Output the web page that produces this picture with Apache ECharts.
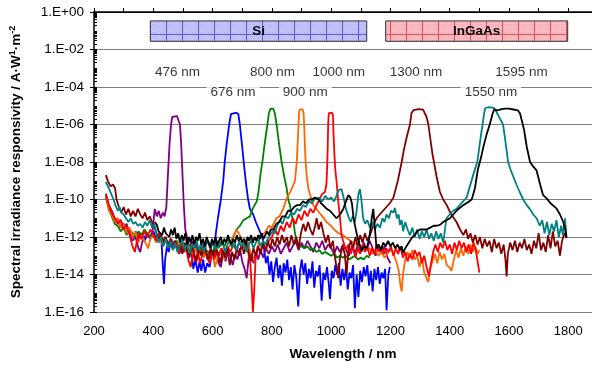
<!DOCTYPE html>
<html><head><meta charset="utf-8">
<script src="https://cdn.jsdelivr.net/npm/echarts@6/dist/echarts.min.js"></script>
<style>html,body{margin:0;padding:0;background:#fff}#c{width:592px;height:366px}</style>
</head><body><div id="c"></div>
<script>
// Values: [wavelength nm, log10(responsivity / A·W^-1·m^-2)]
const resp476 = [[240,-9.8],[250,-10.3],[260,-10.6],[270,-11.0],[280,-11.2],[290,-11.1],[300,-11.5],[310,-11.3],[320,-11.8],[330,-12.2],[340,-12.0],[350,-12.6],[356,-12.8],[362,-12.3],[370,-12.0],[380,-11.8],[390,-12.1],[398,-11.6],[405,-10.5],[412,-10.9],[418,-10.6],[425,-11.0],[432,-10.7],[438,-10.9],[444,-10.4],[450,-8.5],[455,-7.0],[460,-6.0],[464,-5.6],[470,-5.55],[480,-5.55],[486,-5.6],[490,-6.0],[494,-7.0],[498,-8.5],[503,-10.3],[508,-11.6],[515,-12.1],[522,-12.6],[530,-12.2],[538,-12.8],[545,-12.3],[552,-13.0],[560,-12.5],[568,-12.9],[575,-12.4],[582,-13.2],[590,-12.7],[598,-12.9],[605,-13.1],[612,-12.6],[620,-13.4],[628,-13.6],[636,-12.8],[644,-13.3],[652,-12.7],[660,-13.0],[668,-13.5],[676,-12.9],[684,-13.2],[692,-12.6],[700,-13.3],[708,-13.7],[715,-14.2],[722,-13.1],[730,-12.9],[738,-13.4],[746,-12.8],[754,-13.2],[762,-12.7],[771,-13.1],[780,-12.6],[790,-12.9],[800,-12.5],[810,-12.8],[820,-12.4],[830,-12.9],[840,-12.6],[850,-12.3],[860,-12.8],[870,-12.5],[880,-12.2],[890,-12.7],[900,-12.3],[910,-12.6],[920,-12.2],[930,-12.5],[940,-12.8],[950,-12.3],[960,-12.6],[970,-12.2],[980,-12.7],[990,-12.4],[1000,-12.6],[1010,-12.9],[1020,-12.5],[1030,-12.8],[1040,-12.4],[1050,-12.7],[1060,-13.0],[1070,-12.5],[1080,-12.9],[1090,-12.4],[1100,-12.8],[1110,-12.3],[1120,-12.7],[1130,-12.2],[1140,-12.6],[1150,-13.0],[1160,-12.4],[1170,-12.9],[1180,-12.5],[1190,-13.1],[1200,-13.4]];

const resp676 = [[240,-9.7],[250,-10.4],[260,-10.8],[270,-11.2],[280,-11.0],[290,-11.5],[300,-11.3],[310,-11.8],[320,-11.6],[330,-12.0],[340,-11.7],[350,-12.1],[360,-11.8],[370,-12.2],[380,-11.9],[390,-12.0],[400,-11.7],[410,-12.1],[420,-11.8],[428,-12.3],[432,-13.5],[436,-14.5],[440,-13.2],[446,-12.5],[452,-12.8],[458,-12.3],[465,-12.6],[472,-12.2],[480,-12.5],[488,-12.9],[496,-12.4],[504,-12.8],[512,-12.5],[520,-13.0],[528,-12.6],[535,-13.7],[542,-13.2],[550,-13.9],[556,-13.3],[562,-13.8],[568,-13.2],[575,-13.9],[582,-13.4],[590,-13.6],[597,-12.9],[605,-12.8],[611,-11.8],[618,-11.0],[628,-10.0],[636,-9.0],[641,-8.0],[648,-7.0],[656,-6.0],[662,-5.45],[668,-5.37],[680,-5.37],[687,-5.45],[692,-6.0],[700,-7.2],[707,-8.3],[714,-9.3],[720,-10.0],[726,-10.5],[737,-10.8],[746,-11.2],[754,-11.5],[762,-11.8],[768,-12.0],[775,-12.8],[780,-13.4],[786,-13.0],[792,-14.0],[798,-13.3],[804,-14.4],[810,-13.6],[816,-13.1],[822,-14.2],[828,-13.5],[834,-14.6],[840,-13.4],[846,-13.9],[852,-13.2],[858,-14.3],[864,-13.6],[870,-14.8],[876,-13.5],[882,-14.1],[889,-15.7],[895,-13.8],[901,-13.2],[907,-14.0],[913,-13.4],[919,-14.5],[925,-13.7],[931,-14.2],[937,-13.3],[943,-14.7],[949,-13.8],[955,-14.1],[961,-13.5],[968,-15.4],[974,-13.9],[980,-14.3],[986,-13.6],[992,-14.5],[996,-15.3],[1002,-13.8],[1008,-14.2],[1014,-13.5],[1020,-14.0],[1026,-13.4],[1032,-14.6],[1038,-13.7],[1044,-14.3],[1050,-13.6],[1056,-14.8],[1062,-13.9],[1068,-14.2],[1074,-13.5],[1080,-15.8],[1086,-14.0],[1092,-15.2],[1098,-13.8],[1104,-14.4],[1110,-13.6],[1116,-14.1],[1122,-13.5],[1128,-14.6],[1134,-13.8],[1140,-14.9],[1146,-13.7],[1152,-14.3],[1158,-13.6],[1164,-14.5],[1170,-13.9],[1176,-14.2],[1182,-13.7],[1187,-15.9],[1193,-14.0],[1198,-13.6]];

const resp800 = [[240,-9.9],[250,-10.5],[260,-10.9],[270,-11.3],[280,-11.4],[290,-11.7],[300,-11.5],[310,-11.9],[320,-11.6],[330,-11.8],[340,-12.0],[350,-11.7],[360,-11.9],[370,-11.6],[380,-11.8],[390,-12.0],[400,-11.9],[410,-12.2],[420,-11.9],[430,-12.3],[440,-12.0],[450,-12.4],[460,-12.1],[470,-12.5],[480,-12.2],[490,-12.6],[500,-12.3],[510,-12.7],[520,-12.4],[530,-12.8],[540,-12.5],[550,-12.9],[560,-12.6],[570,-13.0],[580,-12.7],[590,-13.1],[600,-12.8],[610,-12.4],[620,-12.6],[630,-12.2],[640,-12.5],[650,-12.1],[660,-12.3],[670,-12.0],[681,-11.6],[692,-11.4],[704,-11.1],[715,-11.0],[726,-10.9],[735,-10.5],[749,-10.1],[755,-9.6],[762,-8.6],[768,-8.0],[776,-7.0],[785,-6.0],[790,-5.4],[795,-5.16],[805,-5.16],[810,-5.4],[816,-6.0],[824,-7.0],[833,-8.0],[842,-8.8],[850,-9.4],[855,-10.0],[861,-10.3],[866,-10.8],[872,-11.1],[878,-11.8],[884,-12.2],[890,-12.4],[900,-12.5],[910,-12.6],[920,-12.5],[930,-12.7],[940,-12.6],[950,-12.8],[960,-12.7],[970,-12.9],[980,-12.8],[990,-12.9],[1000,-13.0],[1010,-12.9],[1020,-13.1],[1030,-13.0],[1040,-13.1],[1050,-13.0],[1060,-13.2],[1070,-13.1],[1080,-13.0],[1090,-13.2],[1100,-13.1],[1110,-13.2],[1120,-13.0],[1130,-13.1]];

const resp900 = [[240,-9.7],[250,-10.6],[260,-10.8],[270,-11.2],[280,-11.0],[290,-11.5],[300,-11.3],[310,-11.8],[320,-11.5],[330,-12.0],[340,-11.7],[350,-12.3],[360,-11.9],[370,-12.2],[383,-12.6],[390,-12.1],[400,-11.9],[410,-12.3],[420,-12.0],[430,-12.4],[440,-12.1],[450,-12.5],[460,-12.2],[470,-12.6],[480,-12.3],[490,-12.7],[500,-12.4],[510,-12.8],[520,-12.5],[530,-12.9],[540,-12.6],[550,-13.0],[560,-12.7],[570,-13.1],[580,-12.8],[590,-13.2],[600,-12.9],[608,-13.6],[620,-12.9],[630,-12.6],[640,-13.2],[650,-12.7],[660,-12.4],[670,-12.0],[680,-11.6],[692,-11.9],[704,-12.4],[716,-12.1],[728,-12.8],[743,-13.3],[752,-12.6],[760,-11.9],[775,-11.8],[790,-11.4],[800,-11.5],[815,-11.0],[826,-10.9],[838,-10.5],[850,-9.95],[865,-9.5],[878,-9.0],[884,-8.0],[887,-7.0],[890,-6.0],[892,-5.3],[895,-5.19],[904,-5.19],[907,-5.4],[909,-6.0],[911,-7.0],[914,-8.0],[918,-8.8],[923,-9.4],[930,-9.8],[940,-10.3],[955,-10.6],[970,-10.9],[985,-11.2],[996,-11.35],[1010,-11.6],[1025,-11.8],[1040,-11.9],[1052,-12.05],[1065,-12.2],[1080,-12.35],[1095,-12.5],[1110,-12.6],[1120,-12.7],[1130,-12.6],[1140,-12.9],[1150,-12.7],[1160,-13.0],[1170,-12.8],[1180,-13.1],[1190,-12.9],[1200,-12.6],[1210,-12.9],[1220,-13.3],[1228,-13.8],[1234,-14.6],[1238,-14.9],[1243,-13.9],[1250,-13.2],[1258,-12.8],[1266,-13.1],[1274,-12.7],[1282,-13.2],[1290,-13.0],[1298,-13.6],[1306,-13.1],[1314,-13.9],[1322,-14.2],[1328,-14.4],[1334,-13.7],[1342,-13.3],[1350,-12.9],[1358,-13.4],[1366,-12.8],[1374,-13.2],[1382,-12.9],[1390,-13.5],[1398,-13.6],[1406,-13.8],[1414,-13.2],[1422,-12.7],[1430,-13.1],[1438,-12.6],[1446,-13.0],[1454,-12.5],[1462,-12.9],[1470,-12.4],[1478,-12.8],[1486,-12.5],[1494,-12.9],[1500,-12.7]];

const resp1000 = [[240,-9.7],[250,-10.3],[260,-10.7],[270,-11.0],[280,-11.3],[290,-11.1],[300,-11.6],[310,-11.4],[320,-11.9],[330,-12.5],[338,-12.8],[345,-12.2],[352,-11.8],[360,-12.1],[370,-11.7],[380,-12.0],[390,-11.6],[400,-11.9],[410,-12.2],[420,-11.8],[430,-12.3],[440,-12.0],[450,-12.5],[460,-12.1],[470,-12.6],[478,-12.3],[486,-12.9],[494,-12.4],[502,-12.8],[510,-12.5],[518,-13.2],[526,-13.6],[534,-12.9],[542,-13.3],[550,-12.8],[558,-13.4],[566,-12.9],[574,-12.6],[582,-13.1],[590,-13.4],[598,-12.8],[606,-13.2],[614,-12.7],[622,-13.0],[630,-12.6],[640,-12.9],[650,-12.5],[660,-12.8],[670,-12.4],[680,-12.7],[690,-12.3],[700,-12.6],[710,-12.4],[720,-12.8],[728,-13.5],[733,-15.0],[736,-16.0],[740,-15.0],[745,-13.2],[752,-12.5],[760,-12.8],[770,-12.4],[780,-12.7],[790,-12.2],[800,-12.0],[810,-11.6],[820,-11.9],[830,-11.4],[840,-11.7],[850,-11.2],[860,-11.5],[870,-11.0],[880,-11.3],[890,-10.8],[900,-11.1],[910,-10.6],[920,-10.9],[930,-10.5],[940,-10.7],[951,-10.3],[960,-10.0],[970,-9.7],[979,-9.6],[984,-9.2],[986,-8.5],[988,-7.5],[990,-6.0],[992,-5.4],[995,-5.37],[1003,-5.37],[1006,-5.5],[1008,-6.5],[1011,-7.6],[1014,-8.4],[1018,-9.0],[1024,-10.1],[1030,-11.0],[1035,-11.9],[1042,-12.3],[1050,-12.7],[1058,-12.4],[1066,-12.9],[1074,-12.5],[1082,-13.1],[1090,-12.6],[1098,-12.9],[1106,-12.4],[1114,-12.8],[1122,-12.5],[1130,-13.0],[1138,-12.6],[1146,-12.9],[1154,-12.4],[1162,-12.8],[1170,-12.5],[1178,-12.9],[1186,-12.6],[1194,-12.8],[1202,-12.5],[1210,-13.0],[1218,-12.6],[1226,-12.9],[1234,-12.5],[1242,-13.1],[1250,-12.8],[1258,-13.3],[1266,-12.9],[1274,-13.2],[1282,-12.7],[1290,-13.0],[1298,-12.8],[1306,-13.4],[1314,-13.0],[1322,-13.6],[1330,-14.1],[1336,-13.5],[1344,-12.8],[1352,-12.4],[1360,-12.8],[1368,-12.3],[1376,-12.6],[1384,-12.2],[1392,-12.7],[1400,-12.4],[1408,-12.9],[1416,-12.3],[1424,-12.7],[1432,-12.2],[1440,-12.6],[1448,-12.3],[1456,-12.8],[1464,-12.4],[1472,-12.9],[1480,-12.3],[1488,-12.7],[1494,-13.3],[1500,-13.9]];

const resp1300 = [[240,-8.7],[248,-9.06],[256,-9.3],[264,-9.2],[271,-9.4],[276,-10.0],[284,-10.4],[292,-10.7],[300,-10.4],[308,-10.8],[316,-10.5],[324,-10.9],[332,-10.6],[340,-10.9],[348,-10.5],[356,-10.8],[364,-11.0],[372,-10.7],[380,-11.1],[388,-10.9],[396,-11.2],[404,-11.5],[411,-11.8],[418,-12.1],[426,-11.9],[434,-12.3],[442,-12.0],[450,-12.4],[458,-12.1],[466,-12.6],[474,-12.2],[482,-12.8],[490,-12.4],[498,-12.9],[506,-12.3],[514,-12.7],[522,-13.1],[530,-12.5],[538,-12.9],[546,-13.3],[554,-12.6],[562,-13.0],[570,-12.4],[578,-12.8],[586,-13.2],[594,-12.6],[602,-13.0],[610,-12.5],[618,-12.9],[626,-13.4],[634,-12.7],[642,-13.1],[650,-12.6],[658,-13.5],[666,-12.8],[674,-13.2],[682,-12.6],[690,-13.0],[698,-12.4],[706,-12.9],[714,-12.3],[722,-12.8],[730,-13.3],[738,-12.6],[746,-13.0],[754,-12.5],[762,-12.9],[770,-12.3],[778,-12.7],[786,-12.2],[794,-12.6],[802,-12.1],[810,-12.5],[818,-12.0],[826,-12.4],[834,-11.9],[842,-12.3],[850,-12.0],[858,-12.5],[866,-11.9],[874,-12.4],[882,-12.0],[890,-12.6],[898,-11.8],[906,-11.3],[914,-11.7],[922,-11.2],[930,-11.6],[938,-11.9],[946,-11.4],[951,-11.0],[958,-11.6],[966,-11.2],[974,-11.8],[982,-12.3],[990,-11.9],[998,-12.6],[1006,-12.2],[1012,-13.0],[1018,-13.6],[1024,-14.2],[1030,-13.1],[1038,-12.5],[1046,-12.9],[1052,-14.0],[1058,-12.7],[1066,-12.2],[1074,-12.6],[1082,-12.0],[1090,-12.5],[1098,-11.9],[1106,-12.3],[1114,-11.8],[1122,-12.2],[1131,-11.9],[1142,-11.4],[1153,-11.0],[1175,-10.6],[1198,-10.2],[1210,-9.9],[1225,-9.0],[1238,-8.0],[1246,-7.3],[1256,-6.6],[1266,-6.0],[1271,-5.4],[1278,-5.23],[1295,-5.18],[1310,-5.21],[1316,-5.3],[1322,-5.6],[1328,-6.0],[1335,-6.8],[1342,-7.6],[1348,-8.1],[1356,-8.8],[1367,-9.6],[1378,-10.0],[1390,-10.3],[1405,-10.8],[1423,-11.2],[1435,-11.6],[1446,-11.9],[1455,-11.6],[1462,-12.1],[1470,-11.8],[1478,-12.3],[1486,-11.9],[1494,-12.4],[1502,-12.0],[1510,-12.6],[1518,-12.1],[1526,-12.5],[1534,-12.2],[1542,-12.8],[1550,-12.1],[1558,-12.6],[1566,-12.3],[1574,-12.9],[1582,-12.4],[1588,-13.2],[1592,-14.1],[1596,-12.9],[1604,-12.3],[1612,-12.7],[1620,-12.2],[1628,-12.8],[1636,-12.3],[1644,-12.6],[1652,-12.1],[1660,-12.7],[1668,-12.4],[1676,-12.9],[1684,-12.2],[1692,-12.6],[1700,-11.8],[1708,-12.7],[1716,-12.3],[1724,-12.8],[1732,-11.9],[1740,-12.6],[1748,-11.7],[1756,-12.5],[1764,-12.2],[1772,-13.0],[1778,-12.3],[1786,-11.8],[1794,-12.05]];

const resp1550 = [[240,-9.06],[250,-9.4],[258,-9.7],[266,-10.0],[272,-10.3],[280,-10.6],[286,-10.4],[292,-10.7],[300,-10.8],[308,-11.0],[316,-11.2],[324,-11.0],[332,-11.3],[340,-11.2],[348,-11.4],[356,-11.3],[364,-11.5],[372,-11.2],[380,-11.4],[388,-11.1],[396,-11.5],[404,-11.3],[411,-11.9],[418,-12.3],[426,-12.0],[434,-12.5],[442,-12.1],[450,-12.6],[458,-12.2],[466,-12.7],[474,-12.3],[482,-12.8],[490,-12.4],[498,-12.2],[506,-12.7],[514,-12.3],[522,-12.9],[530,-12.4],[538,-12.6],[546,-12.2],[554,-12.7],[562,-12.3],[570,-12.8],[578,-12.4],[586,-12.2],[594,-12.6],[602,-12.3],[610,-12.7],[618,-12.2],[626,-12.5],[634,-12.3],[642,-12.8],[650,-12.4],[658,-12.2],[666,-12.6],[674,-12.3],[682,-12.7],[690,-12.2],[698,-12.5],[706,-12.3],[714,-12.8],[722,-12.4],[730,-12.2],[738,-12.6],[746,-12.3],[754,-12.1],[762,-12.5],[770,-12.2],[778,-12.4],[786,-12.1],[794,-11.9],[802,-11.7],[810,-11.8],[818,-11.4],[827,-11.1],[836,-11.3],[845,-10.9],[855,-11.0],[865,-10.7],[875,-10.8],[885,-10.5],[895,-10.6],[905,-10.3],[915,-10.4],[925,-10.1],[935,-10.2],[945,-9.95],[951,-10.0],[960,-9.9],[970,-10.1],[980,-9.8],[990,-10.0],[1000,-9.9],[1010,-10.1],[1018,-9.8],[1025,-9.5],[1030,-9.4],[1035,-9.45],[1042,-9.9],[1050,-10.5],[1058,-10.9],[1066,-11.2],[1073,-10.9],[1080,-11.2],[1086,-10.6],[1092,-9.7],[1097,-9.45],[1102,-10.0],[1108,-11.0],[1115,-11.3],[1122,-11.1],[1131,-11.5],[1140,-11.2],[1148,-11.6],[1156,-11.3],[1165,-11.5],[1173,-11.0],[1180,-11.2],[1187,-10.8],[1195,-11.0],[1202,-10.6],[1210,-10.7],[1215,-10.45],[1222,-11.0],[1228,-10.8],[1232,-11.35],[1238,-11.1],[1243,-11.7],[1250,-11.2],[1258,-11.6],[1266,-11.9],[1274,-11.5],[1282,-12.0],[1290,-11.6],[1298,-12.1],[1306,-11.7],[1314,-12.0],[1322,-11.6],[1330,-12.1],[1338,-11.8],[1346,-12.2],[1354,-11.7],[1362,-12.1],[1370,-11.8],[1378,-12.3],[1384,-11.6],[1389,-11.0],[1400,-10.8],[1412,-10.6],[1423,-10.5],[1434,-10.3],[1445,-10.1],[1457,-9.9],[1468,-9.3],[1479,-8.7],[1487,-8.3],[1493,-8.0],[1500,-7.2],[1506,-6.5],[1511,-6.0],[1516,-5.4],[1520,-5.12],[1530,-5.08],[1545,-5.1],[1552,-5.15],[1560,-5.4],[1570,-5.7],[1580,-6.0],[1588,-6.9],[1597,-8.0],[1605,-8.4],[1615,-8.8],[1625,-9.2],[1636,-9.6],[1648,-10.0],[1660,-10.3],[1670,-10.5],[1682,-10.8],[1693,-11.0],[1704,-11.4],[1712,-11.1],[1720,-11.8],[1728,-11.2],[1736,-11.9],[1744,-11.3],[1752,-11.7],[1760,-11.1],[1768,-12.0],[1776,-11.4],[1782,-11.9],[1789,-11.0],[1794,-12.0]];

const resp1595 = [[405,-11.2],[412,-11.35],[418,-11.7],[424,-11.6],[430,-11.9],[436,-11.5],[442,-11.8],[448,-11.7],[454,-12.0],[460,-11.6],[466,-11.9],[472,-11.5],[478,-12.1],[484,-11.8],[490,-12.3],[496,-11.9],[502,-12.2],[508,-11.8],[514,-12.4],[520,-12.0],[526,-12.3],[532,-11.9],[538,-12.4],[544,-12.0],[550,-12.2],[556,-11.8],[562,-12.4],[568,-12.1],[574,-12.5],[580,-12.0],[586,-12.3],[592,-12.6],[598,-12.1],[604,-12.4],[610,-12.0],[616,-12.5],[622,-12.2],[628,-12.0],[634,-12.4],[640,-12.1],[646,-12.3],[652,-11.9],[658,-12.2],[664,-12.4],[670,-12.1],[676,-12.3],[682,-11.9],[688,-12.2],[694,-12.0],[700,-12.3],[706,-12.1],[712,-12.4],[718,-12.0],[724,-12.2],[730,-11.9],[736,-12.3],[742,-12.0],[748,-12.2],[754,-11.9],[760,-12.1],[766,-11.8],[772,-12.1],[778,-11.9],[784,-11.7],[790,-11.9],[796,-11.6],[805,-11.6],[815,-11.3],[825,-11.2],[835,-10.9],[845,-10.9],[855,-10.6],[865,-10.6],[875,-10.4],[885,-10.3],[895,-10.3],[905,-10.1],[915,-10.2],[925,-10.0],[935,-10.0],[945,-9.9],[951,-9.85],[958,-10.0],[966,-10.2],[973,-10.3],[985,-10.5],[996,-10.6],[1007,-10.8],[1018,-11.0],[1030,-10.8],[1041,-10.5],[1050,-10.1],[1058,-9.77],[1065,-9.9],[1070,-10.2],[1075,-10.9],[1080,-11.35],[1086,-11.8],[1092,-12.2],[1098,-12.5],[1103,-12.76],[1110,-12.5],[1120,-12.6],[1128,-12.1],[1134,-11.4],[1137,-11.0],[1142,-10.5],[1146,-11.2],[1150,-12.0],[1153,-12.6],[1160,-12.4],[1168,-12.7],[1176,-12.3],[1184,-12.5],[1192,-12.2],[1200,-12.5],[1208,-12.3],[1216,-12.6],[1224,-12.4],[1232,-12.7],[1238,-12.5],[1243,-12.85],[1250,-12.6],[1258,-12.4],[1266,-12.2],[1274,-12.0],[1282,-11.9],[1290,-11.7],[1300,-11.6],[1310,-11.6],[1322,-11.6],[1334,-11.5],[1346,-11.4],[1356,-11.4],[1367,-11.35],[1378,-11.2],[1389,-11.1],[1401,-11.0],[1412,-10.8],[1423,-10.6],[1434,-10.45],[1446,-10.3],[1456,-10.2],[1466,-10.1],[1474,-10.0],[1478,-9.8],[1481,-9.9],[1485,-9.4],[1495,-8.4],[1505,-7.8],[1515,-7.1],[1525,-6.5],[1535,-6.0],[1545,-5.4],[1550,-5.2],[1560,-5.25],[1570,-5.2],[1585,-5.15],[1600,-5.15],[1615,-5.2],[1630,-5.25],[1637,-5.4],[1645,-5.9],[1651,-6.3],[1660,-7.2],[1671,-8.0],[1682,-8.25],[1693,-8.45],[1705,-9.2],[1715,-9.77],[1727,-9.94],[1740,-10.2],[1760,-10.47],[1772,-10.8],[1783,-11.2],[1790,-11.6],[1794,-12.05]];

const seriesNames = ['476 nm','676 nm','800 nm','900 nm','1000 nm','1300 nm','1550 nm','1595 nm'];
const seriesData  = [resp476, resp676, resp800, resp900, resp1000, resp1300, resp1550, resp1595];
const seriesColors = ['#800080','#0000ff','#008000','#ff6600','#ff0000','#800000','#008080','#000000'];

// peak labels: [wavelength of label centre, log10 level]
const peakLabelNames = ['476 nm','676 nm','800 nm','900 nm','1000 nm','1300 nm','1550 nm','1595 nm'];
const peakLabelPos = [[482,-3.2],[669,-4.26],[802,-3.2],[913,-4.26],[1026,-3.2],[1286,-3.2],[1539,-4.26],[1642,-3.2]];

// detector ranges: [from nm, to nm, top log10, bottom log10]
const detectorNames = ['Si','InGaAs'];
const detectorBoxes = [[390,1120,-0.475,-1.563],[1184,1798,-0.475,-1.563]];

const yTicks = [-16,-14,-12,-10,-8,-6,-4,-2,0];
const xTicks = [200,400,600,800,1000,1200,1400,1600,1800];

const FONT = '"Liberation Sans", Arial, sans-serif';

function makePattern(bg, dot, line) {
  const c = document.createElement('canvas');
  c.width = 16; c.height = 20;
  const g = c.getContext('2d');
  g.fillStyle = bg; g.fillRect(0,0,16,20);
  g.fillStyle = dot;
  for (let y = 0; y < 20; y += 2) for (let x = (y/2)%2; x < 16; x += 2) g.fillRect(x,y,1,1);
  g.fillStyle = line;
  g.fillRect(6,0,1,20);
  g.fillRect(0,14,16,1);
  return c;
}
const patterns = [
  makePattern('#c4c4ff', '#b0b0f4', '#5a5ae6'),
  makePattern('#ffbcc4', '#f4a8b0', '#e05050')
];

const minorTicks = [];
for (let n = -16; n < 0; n++) {
  for (let k = 1; k <= 9; k++) minorTicks.push(n + Math.log10(k));
}
minorTicks.push(0);
const xMinor = [];
for (let v = 200; v <= 1800; v += 100) xMinor.push(v);

const chart = echarts.init(document.getElementById('c'), null, {renderer: 'canvas'});

const lineSeries = seriesData.map((d, i) => ({
  type: 'line', name: seriesNames[i], data: d, showSymbol: false, symbol: 'none',
  lineStyle: {color: seriesColors[i], width: 1.8}, itemStyle: {color: seriesColors[i]},
  clip: true, z: 3 + i * 0.01, silent: true
}));

const option = {
  animation: false,
  backgroundColor: '#fff',
  textStyle: {fontFamily: FONT},
  grid: {left: 94, right: 0, top: 12, bottom: 51},
  xAxis: [{
    type: 'value', min: 200, max: 1880,
    axisLine: {lineStyle: {color: '#000', width: 1.5}},
    axisTick: {inside: true, length: 4, customValues: xMinor, lineStyle: {color: '#000'}},
    axisLabel: {customValues: xTicks, color: '#000', fontSize: 13, margin: 13, fontFamily: FONT,
      formatter: v => String(Math.round(v))},
    splitLine: {show: false},
    name: 'Wavelength / nm', nameLocation: 'middle', nameGap: 35,
    nameTextStyle: {fontWeight: 'bold', fontSize: 13.5, color: '#000', fontFamily: FONT}
  }, {
    type: 'value', min: 200, max: 1880, position: 'top',
    axisLine: {show: true, lineStyle: {color: '#000', width: 1}},
    axisTick: {show: false}, axisLabel: {show: false}, splitLine: {show: false}
  }],
  yAxis: [{
    type: 'value', min: -16, max: 0, interval: 2,
    axisLine: {show: true, lineStyle: {color: '#000', width: 1.5}},
    axisTick: {show: true, length: 4, lineStyle: {color: '#000'}},
    axisLabel: {
      color: '#000', fontSize: 13.5, margin: 10, fontFamily: FONT,
      formatter: v => { const n = Math.round(v); return '1.E' + (n < 0 ? '-' : '+') + String(Math.abs(n)).padStart(2, '0'); }
    },
    splitLine: {show: true, lineStyle: {color: '#808080', width: 1}},
    name: '{m|Spectral irradiance responsivity / A·W}{s|1}{m|·m}{s|-2}',
    nameLocation: 'middle', nameRotate: 90, nameGap: 70,
    nameTextStyle: {
      rich: {
        m: {fontWeight: 'bold', fontSize: 13.5, color: '#000', fontFamily: FONT, lineHeight: 16},
        s: {fontWeight: 'bold', fontSize: 9, color: '#000', fontFamily: FONT, verticalAlign: 'top', lineHeight: 16, padding: [0,0,6,0]}
      }
    }
  }, {
    type: 'value', min: -16, max: 0, position: 'left',
    axisLine: {show: false},
    axisTick: {show: true, inside: true, length: 3, customValues: minorTicks, lineStyle: {color: '#000'}},
    axisLabel: {show: false}, splitLine: {show: false}
  }],
  series: [
    ...lineSeries,
    {
      type: 'custom', silent: true, z: 10,
      data: detectorBoxes,
      encode: {x: [0, 1], y: [2, 3]},
      renderItem: (params, api) => {
        const p0 = api.coord([api.value(0), api.value(2)]);
        const p1 = api.coord([api.value(1), api.value(3)]);
        const i = params.dataIndex;
        return {
          type: 'group',
          children: [
            {type: 'rect', shape: {x: p0[0], y: p0[1], width: p1[0] - p0[0], height: p1[1] - p0[1]},
             style: {fill: {image: patterns[i], repeat: 'repeat'}, stroke: '#303030', lineWidth: 1}},
            {type: 'text', style: {text: detectorNames[i], x: (p0[0] + p1[0]) / 2, y: (p0[1] + p1[1]) / 2,
             align: 'center', verticalAlign: 'middle', font: 'bold 13.5px ' + FONT, fill: '#000'}}
          ]
        };
      }
    },
    {
      type: 'scatter', silent: true, z: 11, symbolSize: 0,
      data: peakLabelPos.map((p, i) => ({value: p, name: peakLabelNames[i]})),
      label: {show: true, position: 'inside', formatter: p => p.name, color: '#000',
        fontSize: 13.5, fontFamily: FONT, backgroundColor: '#fff', padding: [2, 4]}
    }
  ]
};
chart.setOption(option);
</script></body></html>
